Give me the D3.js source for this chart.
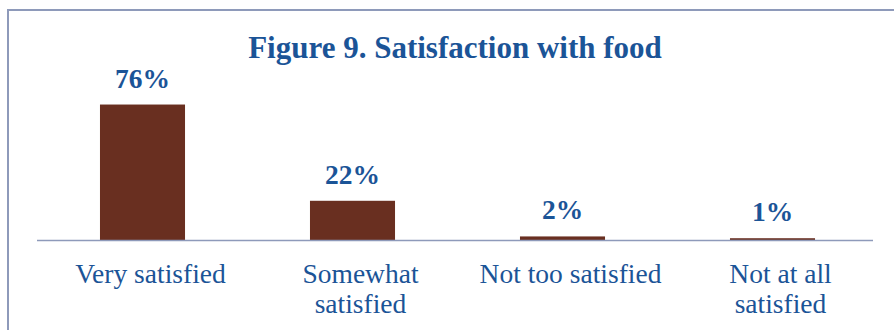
<!DOCTYPE html>
<html>
<head>
<meta charset="utf-8">
<script src="https://cdn.jsdelivr.net/npm/d3@7"></script>
<style>
  html, body { margin: 0; padding: 0; background: #ffffff; }
  svg { display: block; }
</style>
</head>
<body>
<svg id="chart" width="894" height="330"></svg>
<script>
// Survey results: satisfaction with food
const titleText = "Figure 9. Satisfaction with food";
const categories = ["Very satisfied", "Somewhat satisfied", "Not too satisfied", "Not at all satisfied"];
const categoryLines = [["Very satisfied"], ["Somewhat", "satisfied"], ["Not too satisfied"], ["Not at all", "satisfied"]];
const values = [76, 22, 2, 1];
const valueLabels = ["76%", "22%", "2%", "1%"];

const W = 894, H = 330;
const serif = "'Liberation Serif', 'Times New Roman', serif";
const textColor = "#1b5497";
const barColor = "#692f20";
const frameColor = "#8e9aba";

const svg = d3.select("#chart");

svg.append("rect").attr("width", W).attr("height", H).attr("fill", "#fff");

// outer frame (continues past the right and bottom edges)
svg.append("rect")
  .attr("x", 8).attr("y", 10)
  .attr("width", W + 20).attr("height", H + 20)
  .attr("fill", "none")
  .attr("stroke", frameColor)
  .attr("stroke-width", 2);

svg.append("text")
  .attr("x", 455).attr("y", 58)
  .attr("text-anchor", "middle")
  .attr("font-family", serif)
  .attr("font-weight", "bold")
  .attr("font-size", 31)
  .attr("fill", textColor)
  .text(titleText);

const baseY = 240;
const x = d3.scaleBand()
  .domain(categories)
  .range([37.5, 877.5])
  .paddingInner(0.595)
  .paddingOuter(0.2975);

const y = d3.scaleLinear()
  .domain([0, 80])
  .range([baseY, baseY - 142.6]);

// bars
svg.append("g").selectAll("rect")
  .data(categories)
  .join("rect")
  .attr("x", d => x(d))
  .attr("width", x.bandwidth())
  .attr("y", (d, i) => y(values[i]))
  .attr("height", (d, i) => y(0) - y(values[i]))
  .attr("fill", barColor);

// category axis
const axis = d3.axisBottom(x).tickSize(0).tickFormat("");
const axisG = svg.append("g")
  .attr("transform", `translate(0,${baseY + 0.5})`)
  .call(axis);
axisG.select(".domain")
  .attr("d", "M37,0H873")
  .attr("stroke", frameColor)
  .attr("stroke-width", 1.6);

axisG.selectAll(".tick").each(function (d, i) {
  const t = d3.select(this).append("text")
    .attr("x", 8)
    .attr("y", 42)
    .attr("text-anchor", "middle")
    .attr("font-family", serif)
    .attr("font-size", 27.5)
    .attr("fill", textColor);
  categoryLines[i].forEach((line, j) => {
    t.append("tspan").attr("x", 8).attr("dy", j === 0 ? 0 : 30).text(line);
  });
});

// value labels
svg.append("g").selectAll("text")
  .data(categories)
  .join("text")
  .attr("x", d => x(d) + x.bandwidth() / 2)
  .attr("y", (d, i) => y(values[i]) - 17)
  .attr("text-anchor", "middle")
  .attr("font-family", serif)
  .attr("font-weight", "bold")
  .attr("font-size", 27.5)
  .attr("fill", textColor)
  .text((d, i) => valueLabels[i]);
</script>
</body>
</html>
